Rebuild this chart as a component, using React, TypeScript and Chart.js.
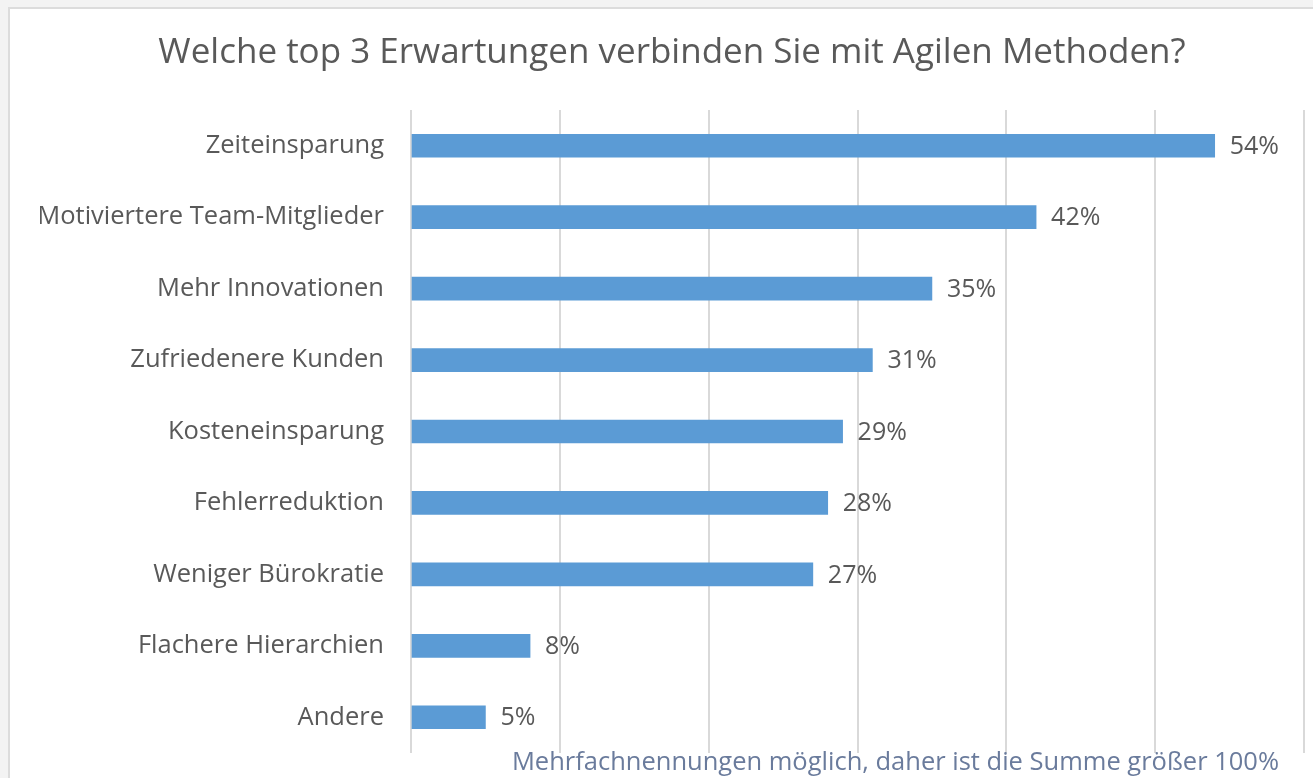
import React, { useEffect, useRef } from "react";
import { Chart, registerables } from "chart.js";

Chart.register(...registerables);

const TITLE = "Welche top 3 Erwartungen verbinden Sie mit Agilen Methoden?";
const FOOTNOTE = "Mehrfachnennungen möglich, daher ist die Summe größer 100%";
const categories = [
  "Zeiteinsparung",
  "Motiviertere Team-Mitglieder",
  "Mehr Innovationen",
  "Zufriedenere Kunden",
  "Kosteneinsparung",
  "Fehlerreduktion",
  "Weniger Bürokratie",
  "Flachere Hierarchien",
  "Andere",
];
const values = [54, 42, 35, 31, 29, 28, 27, 8, 5];
const axisMin = 0;
const axisMax = 60;
const axisStep = 10;

const FONT = "'Open Sans', 'Noto Sans', sans-serif";
const TEXT = "#595959";

const valueLabels = {
  id: "valueLabels",
  afterDatasetsDraw(chart: any) {
    const ctx = chart.ctx;
    const meta = chart.getDatasetMeta(0);
    ctx.save();
    ctx.font = `25px ${FONT}`;
    ctx.fillStyle = TEXT;
    ctx.textAlign = "left";
    ctx.textBaseline = "middle";
    meta.data.forEach((bar: any, i: number) => {
      ctx.fillText(`${values[i]}%`, bar.x + 15, bar.y + 1);
    });
    ctx.restore();
  },
};

const footnote = {
  id: "footnote",
  afterDraw(chart: any) {
    const ctx = chart.ctx;
    ctx.save();
    ctx.font = `25.5px ${FONT}`;
    ctx.fillStyle = "#6a7b9c";
    ctx.textAlign = "right";
    ctx.textBaseline = "alphabetic";
    ctx.fillText(FOOTNOTE, chart.chartArea.right - 25, chart.chartArea.bottom + 17);
    ctx.restore();
  },
};

export default function App() {
  const ref = useRef<HTMLCanvasElement | null>(null);
  useEffect(() => {
    if (!ref.current) return;
    const chart = new Chart(ref.current, {
      type: "bar",
      data: {
        labels: categories,
        datasets: [
          {
            data: values,
            backgroundColor: "#5b9bd5",
            borderWidth: 0,
            barThickness: 23,
          },
        ],
      },
      options: {
        indexAxis: "y",
        responsive: false,
        animation: false,
        devicePixelRatio: 1,
        layout: { padding: { left: 40, right: 9, top: 0, bottom: 25 } },
        plugins: {
          legend: { display: false },
          tooltip: { enabled: false },
          title: {
            display: true,
            text: TITLE,
            color: TEXT,
            font: { family: FONT, size: 35, weight: "normal", lineHeight: 1.2 },
            padding: { top: 32, bottom: 36 },
          },
        },
        scales: {
          x: {
            min: axisMin,
            max: axisMax,
            ticks: { display: false, stepSize: axisStep },
            grid: { display: true, color: "#d9d9d9", lineWidth: 2, drawTicks: false },
            border: { display: false },
          },
          y: {
            ticks: {
              color: TEXT,
              font: { family: FONT, size: 25.5 },
              padding: 27,
            },
            grid: { display: false, drawTicks: false },
            border: { display: false },
            afterFit(scale: any) {
              scale.width = 371;
              scale.paddingTop = 0;
              scale.paddingBottom = 0;
            },
          },
        },
      },
      plugins: [valueLabels, footnote],
    });
    return () => chart.destroy();
  }, []);

  return (
    <div
      style={{
        position: "fixed",
        left: 0,
        top: 0,
        width: 1313,
        height: 778,
        background: "#f3f3f3",
        overflow: "hidden",
      }}
    >
      <div
        style={{
          position: "absolute",
          left: 8,
          top: 7,
          width: 1330,
          height: 800,
          background: "#ffffff",
          border: "2px solid #dcdcdc",
          boxSizing: "border-box",
        }}
      />
      <canvas
        ref={ref}
        width={1313}
        height={778}
        style={{ position: "absolute", left: 0, top: 0 }}
      />
    </div>
  );
}
